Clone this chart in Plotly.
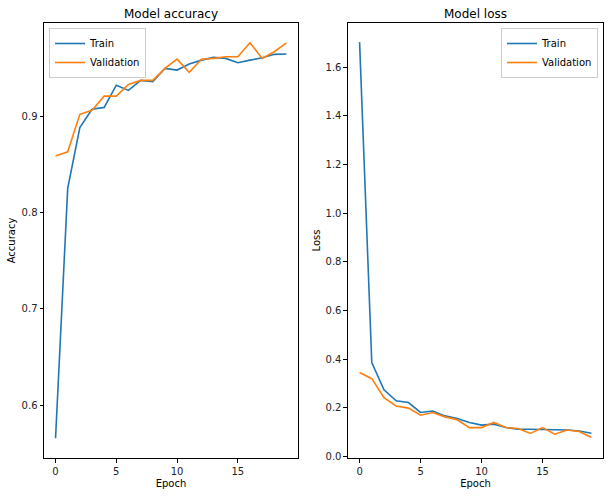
import plotly.graph_objects as go

epochs = list(range(20))
train_acc = [0.566, 0.825, 0.888, 0.907, 0.909, 0.932, 0.9266, 0.937, 0.9356, 0.9494,
             0.9477, 0.954, 0.958, 0.9608, 0.9598, 0.9553, 0.958, 0.9604, 0.964, 0.9643]
val_acc = [0.8585, 0.863, 0.9018, 0.906, 0.9207, 0.9207, 0.9328, 0.937, 0.937, 0.9494,
           0.959, 0.9453, 0.959, 0.9598, 0.9615, 0.9615, 0.976, 0.9598, 0.9667, 0.976]
train_loss = [1.703, 0.386, 0.274, 0.229, 0.222, 0.181, 0.187, 0.167, 0.156, 0.140,
              0.129, 0.133, 0.119, 0.112, 0.112, 0.112, 0.109, 0.109, 0.105, 0.096]
val_loss = [0.345, 0.320, 0.242, 0.208, 0.199, 0.170, 0.181, 0.163, 0.151, 0.119,
            0.119, 0.140, 0.119, 0.115, 0.095, 0.119, 0.092, 0.109, 0.103, 0.078]

BLUE = "#1f77b4"
ORANGE = "#ff7f0e"
FONT = "DejaVu Sans"

fig = go.Figure()
fig.add_trace(go.Scatter(x=epochs, y=train_acc, mode="lines", name="Train",
                         line=dict(color=BLUE, width=1.6), xaxis="x", yaxis="y", legend="legend"))
fig.add_trace(go.Scatter(x=epochs, y=val_acc, mode="lines", name="Validation",
                         line=dict(color=ORANGE, width=1.6), xaxis="x", yaxis="y", legend="legend"))
fig.add_trace(go.Scatter(x=epochs, y=train_loss, mode="lines", name="Train",
                         line=dict(color=BLUE, width=1.6), xaxis="x2", yaxis="y2", legend="legend2"))
fig.add_trace(go.Scatter(x=epochs, y=val_loss, mode="lines", name="Validation",
                         line=dict(color=ORANGE, width=1.6), xaxis="x2", yaxis="y2", legend="legend2"))

axis_common = dict(showline=True, linecolor="black", linewidth=1, mirror=True,
                   ticks="outside", ticklen=3.5, tickwidth=1, tickcolor="black",
                   showgrid=False, zeroline=False, automargin=False,
                   tickfont=dict(family=FONT, size=10, color="#222"))

fig.update_layout(
    width=609, height=496,
    margin=dict(l=44, r=6, t=23, b=38),
    paper_bgcolor="white", plot_bgcolor="white",
    font=dict(family=FONT, size=10, color="black"),
    xaxis=dict(domain=[0, 0.4544], range=[-0.95, 19.95], tickvals=[0, 5, 10, 15],
               title=dict(text="Epoch", standoff=4, font=dict(size=10)), **axis_common),
    yaxis=dict(domain=[0, 1], range=[0.5455, 0.9965], tickvals=[0.6, 0.7, 0.8, 0.9],
               tickformat=".1f",
               title=dict(text="Accuracy", standoff=4, font=dict(size=10)), **axis_common),
    xaxis2=dict(domain=[0.5438, 1], range=[-0.95, 19.95], tickvals=[0, 5, 10, 15], anchor="y2",
                title=dict(text="Epoch", standoff=4, font=dict(size=10)), **axis_common),
    yaxis2=dict(domain=[0, 1], range=[-0.006, 1.7815], anchor="x2",
                tickvals=[0.0, 0.2, 0.4, 0.6, 0.8, 1.0, 1.2, 1.4, 1.6], tickformat=".1f",
                title=dict(text="Loss", standoff=3, font=dict(size=10)), **axis_common),
    legend=dict(x=0.009, y=0.9885, xanchor="left", yanchor="top",
                bgcolor="rgba(255,255,255,0.8)", bordercolor="#cccccc", borderwidth=1,
                font=dict(family=FONT, size=10), itemwidth=30, tracegroupgap=0),
    legend2=dict(x=0.991, y=0.9885, xanchor="right", yanchor="top",
                 bgcolor="rgba(255,255,255,0.8)", bordercolor="#cccccc", borderwidth=1,
                 font=dict(family=FONT, size=10), itemwidth=30, tracegroupgap=0),
    annotations=[
        dict(text="Model accuracy", x=0.2272, y=1, xref="paper", yref="paper",
             xanchor="center", yanchor="bottom", yshift=0, showarrow=False,
             font=dict(family=FONT, size=12, color="black")),
        dict(text="Model loss", x=0.7719, y=1, xref="paper", yref="paper",
             xanchor="center", yanchor="bottom", yshift=0, showarrow=False,
             font=dict(family=FONT, size=12, color="black")),
    ],
)

fig.write_html("out.html", config={"displayModeBar": False},
               post_script="document.body.style.margin='0';document.body.style.overflow='hidden';")
